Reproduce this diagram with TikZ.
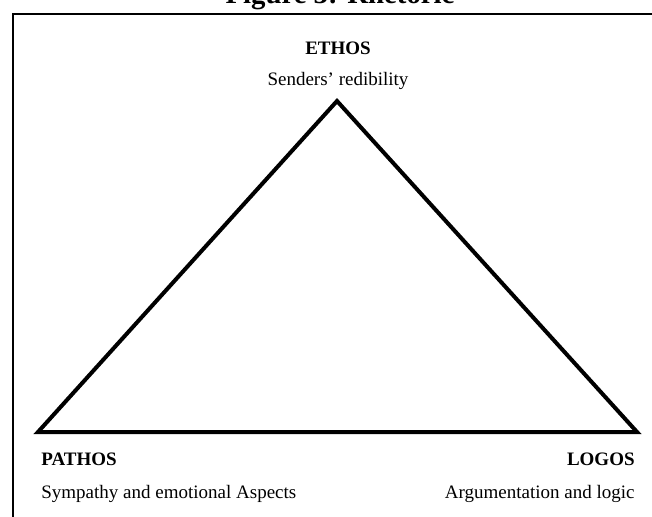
\documentclass[tikz,border=0pt]{standalone}
\usepackage{fontspec}
\setmainfont{Liberation Serif}

\begin{document}
\begin{tikzpicture}[x=0.5pt, y=-0.5pt,
        lbl/.style={inner sep=0pt, font=\fontsize{9.5}{11}\selectfont},
        head/.style={lbl, font=\fontsize{9.5}{11}\selectfont\bfseries}]
                \useasboundingbox (0, 0) rectangle (652, 517);
                % title, cut by the page edge
                \node[inner sep=0pt, anchor=base, font=\fontsize{14.4}{16}\selectfont\bfseries] (title) at (340, 4) {Figure 3: Rhetoric};
                \draw[line width=1pt] (13, 540) -- (13, 14) -- (680, 14);
                % corners of the triangle
                \coordinate (ethos) at (337, 101);
                \coordinate (pathos) at (38, 432);
                \coordinate (logos) at (637, 432);
                \draw[line width=2pt, line join=miter] (ethos) -- (logos) -- (pathos) -- cycle;
                \node[head, anchor=base] (ethosname) at (338, 55) {ETHOS};
                \node[lbl, anchor=base] (ethostext) at (338, 86) {Senders’ redibility};
                \node[head, anchor=base west] (pathosname) at (41, 466) {PATHOS};
                \node[lbl, anchor=base west] (pathostext) at (41, 498) {Sympathy and emotional Aspects};
                \node[head, anchor=base east] (logosname) at (635, 466) {LOGOS};
                \node[lbl, anchor=base east] (logostext) at (635, 498) {Argumentation and logic};
            \end{tikzpicture}
\end{document}
